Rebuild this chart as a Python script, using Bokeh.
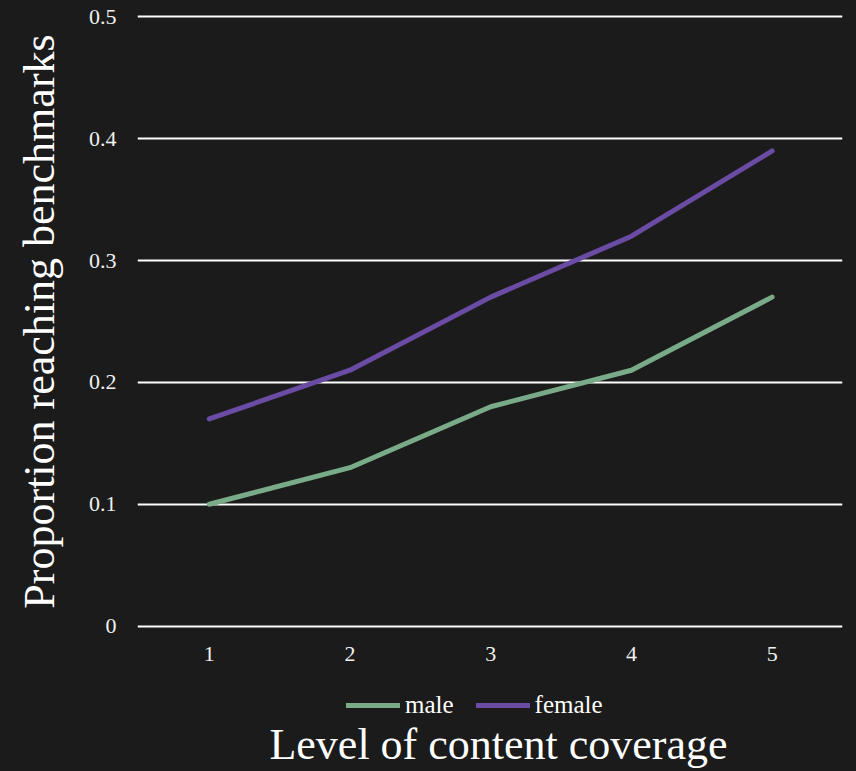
from bokeh.plotting import figure
from bokeh.models import Range1d, FixedTicker, Legend, LegendItem, Label
from bokeh.layouts import column
from bokeh.embed import file_html
from bokeh.resources import INLINE

levels = [1, 2, 3, 4, 5]
male = [0.10, 0.13, 0.18, 0.21, 0.27]
female = [0.17, 0.21, 0.27, 0.32, 0.39]
y_ticks = [0, 0.1, 0.2, 0.3, 0.4, 0.5]
x_ticks = [1, 2, 3, 4, 5]
series_names = ["male", "female"]
x_title = "Level of content coverage"
y_title = "Proportion reaching benchmarks"

BG = "#1b1b1b"
FONT = "Liberation Serif"
GREEN = "#7aab88"
PURPLE = "#6b4ca4"

# ---- main chart ----
p = figure(width=856, height=668, output_backend="svg", toolbar_location=None,
           x_range=Range1d(0.49, 5.5), y_range=Range1d(-0.002, 0.502),
           min_border_left=137, min_border_right=14, min_border_top=14,
           min_border_bottom=40)
p.background_fill_color = BG
p.border_fill_color = BG
p.outline_line_color = None

p.line(levels, male, line_color=GREEN, line_width=5, line_cap="round", line_join="round")
p.line(levels, female, line_color=PURPLE, line_width=5, line_cap="round", line_join="round")

p.xgrid.grid_line_color = None
p.ygrid.grid_line_color = "white"
p.ygrid.grid_line_width = 2
p.ygrid.ticker = FixedTicker(ticks=y_ticks)

for ax in (p.xaxis[0], p.yaxis[0]):
    ax.axis_line_color = None
    ax.major_tick_line_color = None
    ax.minor_tick_line_color = None
    ax.major_tick_out = 0
    ax.major_label_text_font = FONT
    ax.major_label_text_font_size = "22px"
    ax.major_label_text_color = "#f0f0f0"
    ax.axis_label_text_font = FONT
    ax.axis_label_text_font_size = "44px"
    ax.axis_label_text_font_style = "normal"
    ax.axis_label_text_color = "white"

p.xaxis.ticker = FixedTicker(ticks=x_ticks)
p.yaxis.ticker = FixedTicker(ticks=y_ticks)
p.yaxis.major_label_overrides = {0: "0", 0.1: "0.1", 0.2: "0.2", 0.3: "0.3", 0.4: "0.4", 0.5: "0.5"}
p.xaxis.major_label_standoff = 18
p.yaxis.major_label_standoff = 21
p.yaxis.axis_label = y_title
p.yaxis.axis_label_standoff = 22

# ---- legend + x title strip ----
p2 = figure(width=856, height=103, output_backend="svg", toolbar_location=None,
            x_range=Range1d(100, 101), y_range=Range1d(100, 101),
            min_border=0, min_border_left=0, min_border_right=0,
            min_border_top=0, min_border_bottom=0)
p2.background_fill_color = BG
p2.border_fill_color = BG
p2.outline_line_color = None
p2.xaxis.visible = False
p2.yaxis.visible = False
p2.xgrid.grid_line_color = None
p2.ygrid.grid_line_color = None

l_m = p2.line(levels, male, line_color=GREEN, line_width=5, line_cap="round")
l_f = p2.line(levels, female, line_color=PURPLE, line_width=5, line_cap="round")

legend = Legend(items=[LegendItem(label=series_names[0], renderers=[l_m]),
                       LegendItem(label=series_names[1], renderers=[l_f])],
                orientation="horizontal", location=(209, 52),
                background_fill_alpha=0, border_line_color=None,
                label_text_font=FONT, label_text_font_size="25px",
                label_text_color="white", glyph_width=54, glyph_height=24,
                label_height=24, label_standoff=5, spacing=22, padding=0, margin=0)
p2.add_layout(legend, "center")

p2.add_layout(Label(x=361, y=27, x_units="screen", y_units="screen", text=x_title,
                    text_align="center", text_baseline="alphabetic",
                    text_font=FONT, text_font_size="44px", text_color="white"))

layout = column(p, p2, spacing=0)

html = file_html(layout, INLINE)
html = html.replace("</head>", "<style>html,body{background:#1b1b1b;}</style></head>", 1)
open("out.html", "w").write(html)
